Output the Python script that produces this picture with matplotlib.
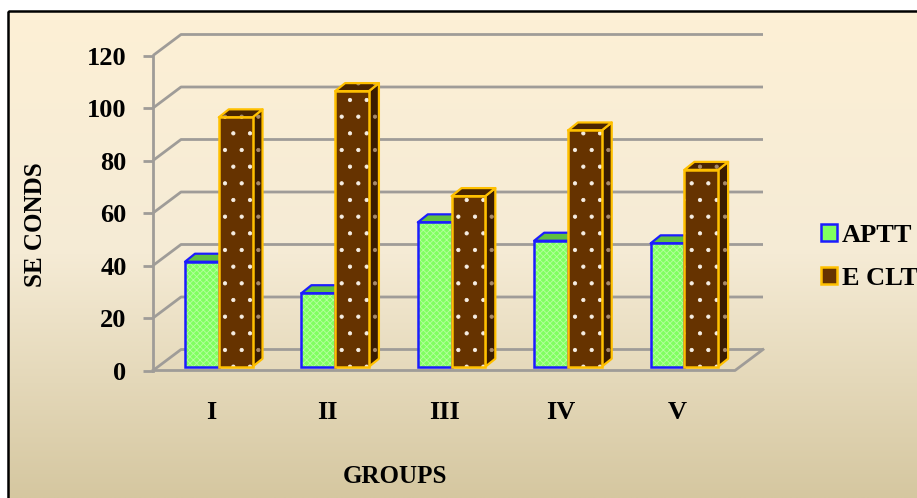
import matplotlib.pyplot as plt
import numpy as np
from matplotlib.patches import Polygon, Rectangle, Patch

# data
groups = ['I', 'II', 'III', 'IV', 'V']
aptt = [40, 28, 55, 48, 47]
eclt = [95, 105, 65, 90, 75]
y_ticks = [0, 20, 40, 60, 80, 100, 120]

W, H = 917, 498
plt.rcParams['font.family'] = ['Liberation Serif', 'DejaVu Serif']
plt.rcParams['font.weight'] = 'bold'
plt.rcParams['hatch.linewidth'] = 0.6

fig = plt.figure(figsize=(W / 100, H / 100), dpi=100, facecolor='white')

# cream background with gradient + black frame
bg = fig.add_axes([0, 0, 1, 1], zorder=-10)
bg.set_axis_off()
bg.set_xlim(0, W)
bg.set_ylim(H, 0)
t = np.linspace(0, 1, 300)
stops = [(0.0, (253, 240, 214)), (0.5, (245, 235, 213)), (1.0, (213, 199, 160))]
cols = np.zeros((len(t), 3))
for c in range(3):
    cols[:, c] = np.interp(t, [s[0] for s in stops], [s[1][c] for s in stops]) / 255
grad = np.repeat(cols[:, None, :], 2, axis=1)
bg.imshow(grad, extent=(8, W, H, 11), aspect='auto', interpolation='bilinear')
bg.add_patch(Rectangle((8, 11), W + 20, H + 20, fill=False, edgecolor='black', lw=1.8))

# main axes: pixel geometry of the front plane
ax = fig.add_axes([153 / W, (H - 370.5) / H, 610 / W, 336.5 / H])
ax.patch.set_alpha(0)
px_x = 116.4   # pixels per group
px_y = 2.625   # pixels per second
DX, DY = 28 / px_x, 21 / px_y       # depth of the whole box
ax.set_xlim(-0.5, 4.5 + DX)
ax.set_ylim(0, 336.5 / px_y)

grid_col = '#9f9c98'
for v in y_ticks:
    ax.plot([-0.5, -0.5 + DX, 4.5 + DX], [v, v + DY, v + DY],
            color=grid_col, lw=2.0, clip_on=False, zorder=1, solid_capstyle='butt')
# floor front and right edge
ax.plot([-0.5, 4.5, 4.5 + DX], [0, 0, DY], color=grid_col, lw=2.0, clip_on=False, zorder=1)

# bars
x = np.arange(len(groups))
f = 0.18
sx, sy = f * DX, f * DY
bdx, bdy = 10 / px_x, 8 / px_y
bw = 0.29
b = x + 0.065

green, green_top, blue = '#80ff60', '#5fc040', '#1c1cff'
brown, brown_top, brown_side, orange = '#663300', '#4a2500', '#3a1c00', '#ffc000'


def box_faces(ax, lefts, heights, top_col, side_col, edge, z, hatch=None, hatch_col='white'):
    for x0, h in zip(lefts, heights):
        y1 = sy + h
        topf = [(x0, y1), (x0 + bw, y1), (x0 + bw + bdx, y1 + bdy), (x0 + bdx, y1 + bdy)]
        side = [(x0 + bw, sy), (x0 + bw + bdx, sy + bdy), (x0 + bw + bdx, y1 + bdy), (x0 + bw, y1)]
        for pts, col in [(side, side_col), (topf, top_col)]:
            ax.add_patch(Polygon(pts, closed=True, facecolor=col, edgecolor='none', zorder=z))
            if hatch:
                ax.add_patch(Polygon(pts, closed=True, facecolor='none', edgecolor=hatch_col,
                                     hatch=hatch, lw=0, zorder=z))
            ax.add_patch(Polygon(pts, closed=True, facecolor='none', edgecolor=edge,
                                 lw=1.6, zorder=z, joinstyle='round'))


# APTT
box_faces(ax, b - bw, aptt, green_top, green_top, blue, 3)
ax.bar(b - bw, aptt, width=bw, bottom=sy, align='edge', color=green, edgecolor='none', zorder=3)
ax.bar(b - bw, aptt, width=bw, bottom=sy, align='edge', color='none', edgecolor='#b6ffa0',
       hatch='xxxxx', lw=0, zorder=3)
ax.bar(b - bw, aptt, width=bw, bottom=sy, align='edge', color='none', edgecolor=blue,
       lw=1.8, zorder=3)

# ECLT
box_faces(ax, b, eclt, brown_top, brown_side, orange, 4, hatch='.', hatch_col='#a88a6a')
ax.bar(b, eclt, width=bw, bottom=sy, align='edge', color=brown, edgecolor='none', zorder=4)
ax.bar(b, eclt, width=bw, bottom=sy, align='edge', color='none', edgecolor='#f6eee4',
       hatch='.', lw=0, zorder=4)
ax.bar(b, eclt, width=bw, bottom=sy, align='edge', color='none', edgecolor=orange,
       lw=1.8, zorder=4)

# axes styling
for s in ['top', 'right', 'bottom']:
    ax.spines[s].set_visible(False)
ax.spines['left'].set_bounds(0, 120)
ax.spines['left'].set_color(grid_col)
ax.spines['left'].set_linewidth(2.0)
ax.set_yticks(y_ticks)
ax.set_xticks(x)
ax.set_xticklabels(groups)
ax.tick_params(axis='y', length=7, width=2.0, color=grid_col, pad=12, labelsize=19)
ax.tick_params(axis='x', length=0, pad=22, labelsize=19)

fig.text(35 / W, 1 - 225 / H, 'SE CONDS', rotation=90, ha='center', va='center', fontsize=18)
fig.text(395 / W, 1 - 476 / H, 'GROUPS', ha='center', va='center', fontsize=18)

handles = [Patch(facecolor=green, edgecolor=blue, lw=1.8),
           Patch(facecolor=brown, edgecolor=orange, lw=1.8)]
fig.legend(handles, ['APTT', 'E CLT'], loc='center left', bbox_to_anchor=(821 / W, 1 - 257 / H),
           frameon=False, fontsize=19, handlelength=0.6, handleheight=0.6,
           handletextpad=0.2, labelspacing=0.75, borderpad=0, borderaxespad=0)

fig.savefig('out.png', dpi=100, facecolor='white')
